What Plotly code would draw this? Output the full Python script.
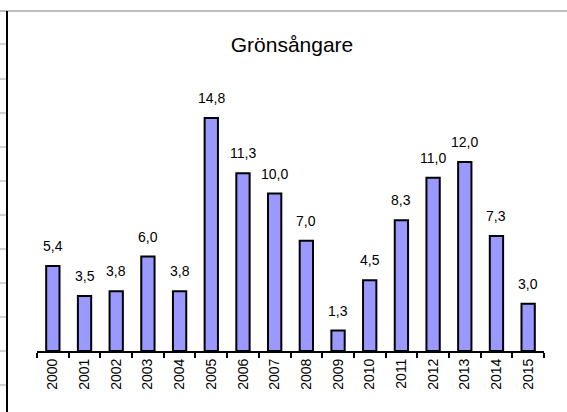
import plotly.graph_objects as go

years = ["2000", "2001", "2002", "2003", "2004", "2005", "2006", "2007",
         "2008", "2009", "2010", "2011", "2012", "2013", "2014", "2015"]
values = [5.4, 3.5, 3.8, 6.0, 3.8, 14.8, 11.3, 10.0,
          7.0, 1.3, 4.5, 8.3, 11.0, 12.0, 7.3, 3.0]
labels = [f"{v:.1f}".replace(".", ",") for v in values]
title_text = "Grönsångare"

W, H = 567, 412
L, R, T, B = 37, 23, 60, 61
PW, PH = W - L - R, H - T - B
PX_PER_UNIT = 15.74

FONT = "Liberation Sans, Arial, sans-serif"


def px_x(px):
    return (px - L) / PW


def px_y(py):
    return (H - B - py) / PH


fig = go.Figure()
fig.add_trace(go.Bar(
    x=years, y=values,
    marker=dict(color="#9999FF", line=dict(color="black", width=2)),
    hoverinfo="skip",
))

for i, (v, lab) in enumerate(zip(values, labels)):
    fig.add_annotation(x=i, y=v, text=lab, showarrow=False,
                       yanchor="bottom", yshift=10,
                       font=dict(family=FONT, size=14, color="black"))

shapes = []
# spreadsheet frame decorations
shapes.append(dict(type="line", xref="paper", yref="paper",
                   x0=px_x(0), x1=px_x(W), y0=px_y(11), y1=px_y(11),
                   line=dict(color="#bdbdbd", width=2)))
shapes.append(dict(type="line", xref="paper", yref="paper",
                   x0=px_x(7), x1=px_x(7), y0=px_y(11), y1=px_y(H),
                   line=dict(color="black", width=2)))
for gy in [44, 79, 113, 147, 181, 215, 249, 283, 317, 351, 385]:
    shapes.append(dict(type="line", xref="paper", yref="paper",
                       x0=px_x(0), x1=px_x(6), y0=px_y(gy), y1=px_y(gy),
                       line=dict(color="#d4d4d4", width=2)))

fig.update_layout(
    width=W, height=H,
    margin=dict(l=L, r=R, t=T, b=B),
    paper_bgcolor="white", plot_bgcolor="white",
    bargap=0.58,
    showlegend=False,
    title=dict(text=title_text, x=292 / W, xanchor="center", xref="container",
               y=1 - 45 / H, yanchor="middle", yref="container",
               font=dict(family=FONT, size=21, color="black")),
    font=dict(family=FONT, color="black"),
    shapes=shapes,
    xaxis=dict(type="category", range=[-0.5, len(years) - 0.5],
               showline=True, linecolor="black", linewidth=2,
               ticks="outside", tickson="boundaries", ticklen=5, tickwidth=2,
               tickcolor="black", tickangle=-90, showgrid=False,
               tickfont=dict(family=FONT, size=14, color="black")),
    yaxis=dict(range=[0, PH / PX_PER_UNIT], visible=False, showgrid=False,
               zeroline=False),
)

fig.write_html("out.html", config={"displayModeBar": False},
               post_script="document.body.style.margin='0';")
